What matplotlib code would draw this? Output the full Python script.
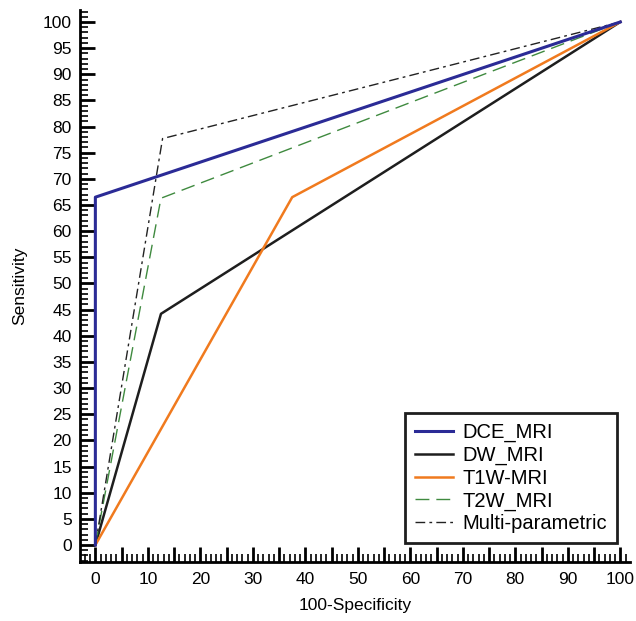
import matplotlib.pyplot as plt
from matplotlib.ticker import MultipleLocator, FuncFormatter

plt.rcParams['font.family'] = ['Liberation Sans', 'DejaVu Sans']

# ROC points (100-Specificity, Sensitivity)
dce_x = [0, 0, 100]
dce_y = [0, 66.5, 100]
dw_x = [0, 12.5, 100]
dw_y = [0, 44.2, 100]
t1w_x = [0, 37.5, 100]
t1w_y = [0, 66.5, 100]
t2w_x = [0, 12.5, 100]
t2w_y = [0, 66.3, 100]
multi_x = [0, 12.8, 100]
multi_y = [0, 77.7, 100]

fig = plt.figure(figsize=(6.36, 6.21), dpi=100)
ax = fig.add_axes([0.126, 0.095, 0.865, 0.889])

ax.plot(dce_x, dce_y, color='#2b2b96', lw=2.2, label='DCE_MRI', zorder=5)
ax.plot(dw_x, dw_y, color='#1e1e1e', lw=1.8, label='DW_MRI')
ax.plot(t1w_x, t1w_y, color='#f07a1e', lw=1.8, label='T1W-MRI')
ax.plot(t2w_x, t2w_y, color='#3f8a3f', lw=1.0, linestyle=(0, (10, 5)), label='T2W_MRI')
ax.plot(multi_x, multi_y, color='#222222', lw=1.0, linestyle=(0, (7, 3, 2, 3)), label='Multi-parametric')

ax.set_xlim(-2.9, 101.9)
ax.set_ylim(-3.25, 102.3)

for s in ['top', 'right']:
    ax.spines[s].set_visible(False)
for s in ['left', 'bottom']:
    ax.spines[s].set_linewidth(2)

ax.xaxis.set_major_locator(MultipleLocator(5))
ax.xaxis.set_minor_locator(MultipleLocator(1))
ax.xaxis.set_major_formatter(FuncFormatter(lambda v, p: f'{int(round(v))}' if round(v) % 10 == 0 else ''))
ax.yaxis.set_major_locator(MultipleLocator(5))
ax.yaxis.set_minor_locator(MultipleLocator(1))

ax.tick_params(which='major', direction='in', length=11, width=2, labelsize=12.5, pad=6)
ax.tick_params(which='minor', direction='in', length=5.5, width=1.2)
ax.tick_params(axis='x', which='major', pad=7)

ax.set_xlabel('100-Specificity', fontsize=12.5, labelpad=8)
ax.set_ylabel('Sensitivity', fontsize=12.5, labelpad=11)

leg = ax.legend(loc='lower right', bbox_to_anchor=(0.976, 0.034), fontsize=14.5,
                frameon=True, fancybox=False, framealpha=1, handlelength=1.9,
                handletextpad=0.45, labelspacing=0.18, borderpad=0.5, borderaxespad=0)
leg.get_frame().set_edgecolor('#1e1e1e')
leg.get_frame().set_linewidth(2)

fig.savefig('out.png', dpi=100)
